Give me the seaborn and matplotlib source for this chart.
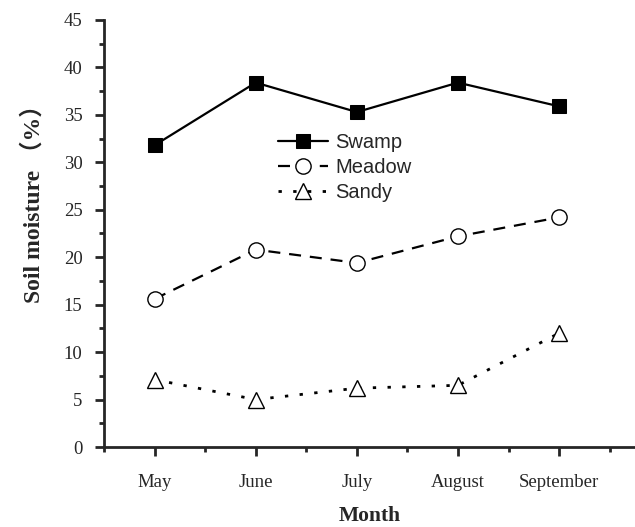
import matplotlib
matplotlib.use("Agg")
import matplotlib.pyplot as plt
import seaborn as sns
import pandas as pd
from matplotlib.ticker import MultipleLocator, FixedLocator

# data
months = ["May", "June", "July", "August", "September"]
swamp = [31.8, 38.4, 35.3, 38.4, 35.9]
meadow = [15.6, 20.8, 19.4, 22.2, 24.2]
sandy = [7.1, 5.0, 6.2, 6.5, 12.0]

sns.set_style("ticks")
plt.rcParams['font.family'] = ['Liberation Serif', 'Noto Sans CJK SC', 'DejaVu Sans']

df = pd.DataFrame({"x": range(len(months)), "Swamp": swamp,
                   "Meadow": meadow, "Sandy": sandy})

fig = plt.figure(figsize=(6.35, 5.27), dpi=100)
ax = fig.add_axes([104 / 635, 80 / 527, 531 / 635, 427 / 527])

sns.lineplot(data=df, x="x", y="Swamp", ax=ax, color="black", lw=1.6,
             marker="s", ms=10, mfc="black", mec="black", label="Swamp")
sns.lineplot(data=df, x="x", y="Meadow", ax=ax, color="black", lw=1.6,
             marker="o", ms=11, mfc="white", mec="black", mew=1,
             dashes=(5.4, 4), label="Meadow")
sns.lineplot(data=df, x="x", y="Sandy", ax=ax, color="black", lw=2,
             marker="^", ms=12, mfc="white", mec="black", mew=1,
             dashes=(1.2, 4.1), label="Sandy")

ax.set_xlim(-0.5, 4.75)
ax.set_ylim(0, 45)
ax.xaxis.set_major_locator(FixedLocator(range(len(months))))
ax.set_xticklabels(months)
ax.xaxis.set_minor_locator(FixedLocator([-0.5, 0.5, 1.5, 2.5, 3.5, 4.5]))
ax.yaxis.set_major_locator(MultipleLocator(5))
ax.yaxis.set_minor_locator(MultipleLocator(2.5))

for s in ["top", "right"]:
    ax.spines[s].set_visible(False)
for s in ["left", "bottom"]:
    ax.spines[s].set_linewidth(2)
ax.tick_params(which="major", length=6.5, width=2, labelsize=13.5)
ax.tick_params(which="minor", length=3.5, width=2)
ax.tick_params(axis="y", which="major", pad=9)
ax.tick_params(axis="x", which="major", pad=13)

ax.set_xlabel("Month", fontsize=15.5, fontweight="bold", labelpad=11)
ax.set_ylabel("Soil moisture （%）", fontsize=17, fontweight="bold")
ax.yaxis.set_label_coords(-0.112, 0.582)

leg = ax.legend(loc="upper left", bbox_to_anchor=(264 / 635, 1 - 119 / 527),
                bbox_transform=fig.transFigure, frameon=False,
                prop={"family": "Liberation Sans", "size": 14.5},
                handlelength=2.5, handletextpad=0.35, labelspacing=0.3,
                borderpad=0.2)

fig.savefig("out.png", dpi=100)
